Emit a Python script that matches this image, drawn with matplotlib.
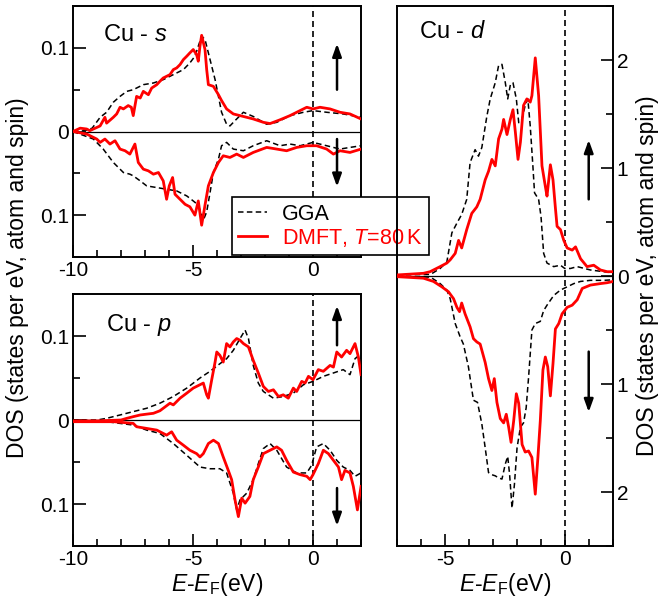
import numpy as np
import matplotlib
matplotlib.use('Agg')
import matplotlib.pyplot as plt
from matplotlib.ticker import MultipleLocator, FixedLocator, FuncFormatter
from matplotlib.lines import Line2D

plt.rcParams['font.family'] = ['Liberation Sans', 'DejaVu Sans']
plt.rcParams['mathtext.fontset'] = 'custom'
plt.rcParams['mathtext.rm'] = 'Liberation Sans'
plt.rcParams['mathtext.it'] = 'Liberation Sans:italic'
plt.rcParams['axes.unicode_minus'] = False

# %% data: (E - E_F [eV], DOS), spin-down stored as magnitudes
s_up_gga = np.array([(-10, 0), (-9.5, 0.001), (-9.2, 0.004), (-8.87, 0.017), (-8.6, 0.023), (-8.32, 0.035),
    (-8.04, 0.042), (-7.76, 0.048), (-7.49, 0.050), (-7.07, 0.056), (-6.65, 0.058), (-6.24, 0.062),
    (-5.82, 0.068), (-5.4, 0.074), (-5.13, 0.082), (-4.92, 0.090), (-4.71, 0.108), (-4.64, 0.114),
    (-4.5, 0.110), (-4.29, 0.086), (-4.08, 0.062), (-3.94, 0.042), (-3.81, 0.023), (-3.6, 0.0087),
    (-3.46, 0.0067), (-3.25, 0.013), (-2.9, 0.023), (-2.49, 0.018), (-1.93, 0.0087), (-1.51, 0.011),
    (-0.96, 0.019), (-0.4, 0.023), (0, 0.025), (0.57, 0.023), (1.26, 0.021), (2.0, 0.017)])
s_up_dmft = np.array([(-10, 0), (-9.7, 0.004), (-9.43, 0.003), (-9.3, 0.001), (-8.87, 0.0067), (-8.67, 0.017),
    (-8.6, 0.010), (-8.32, 0.017), (-8.18, 0.021), (-8.04, 0.029), (-7.9, 0.027), (-7.7, 0.031),
    (-7.57, 0.029), (-7.49, 0.019), (-7.35, 0.042), (-7.2, 0.040), (-7.07, 0.048), (-6.86, 0.044),
    (-6.72, 0.052), (-6.51, 0.056), (-6.38, 0.060), (-6.24, 0.064), (-6.1, 0.066), (-5.96, 0.068),
    (-5.82, 0.074), (-5.68, 0.076), (-5.54, 0.080), (-5.4, 0.086), (-5.26, 0.090), (-5.13, 0.094),
    (-4.99, 0.098), (-4.85, 0.092), (-4.78, 0.084), (-4.71, 0.102), (-4.64, 0.115), (-4.5, 0.098),
    (-4.43, 0.074), (-4.36, 0.056), (-4.15, 0.054), (-3.94, 0.044), (-3.81, 0.037), (-3.6, 0.027),
    (-3.32, 0.021), (-3.04, 0.019), (-2.49, 0.015), (-2.07, 0.011), (-1.79, 0.0095), (-1.375, 0.014),
    (-0.96, 0.019), (-0.54, 0.025), (-0.26, 0.029), (0, 0.027), (0.29, 0.029), (0.71, 0.027),
    (1.125, 0.023), (1.54, 0.021), (2.0, 0.015)])
s_dn_gga = np.array([(-10, 0), (-9.15, 0.009), (-8.74, 0.021), (-8.32, 0.037), (-7.9, 0.049), (-7.63, 0.051),
    (-7.49, 0.053), (-7.2, 0.059), (-6.93, 0.065), (-6.51, 0.067), (-6.1, 0.069), (-5.68, 0.071),
    (-5.26, 0.077), (-4.99, 0.083), (-4.78, 0.088), (-4.57, 0.106), (-4.43, 0.096), (-4.29, 0.073),
    (-4.15, 0.049), (-3.94, 0.033), (-3.81, 0.017), (-3.6, 0.013), (-3.32, 0.021), (-2.9, 0.023),
    (-2.49, 0.017), (-1.93, 0.011), (-1.375, 0.017), (-0.96, 0.015), (-0.54, 0.017), (0, 0.013),
    (0.57, 0.017), (1.125, 0.021), (1.54, 0.019), (2.0, 0.017)])
s_dn_dmft = np.array([(-10, 0), (-9.43, 0.003), (-9.01, 0.009), (-8.87, 0.013), (-8.67, 0.009), (-8.46, 0.015),
    (-8.25, 0.011), (-8.04, 0.021), (-7.83, 0.023), (-7.63, 0.027), (-7.42, 0.015), (-7.28, 0.037),
    (-7.07, 0.045), (-6.86, 0.047), (-6.65, 0.051), (-6.44, 0.049), (-6.24, 0.059), (-6.1, 0.081),
    (-5.99, 0.065), (-5.85, 0.055), (-5.75, 0.075), (-5.54, 0.081), (-5.33, 0.087), (-5.13, 0.090),
    (-4.92, 0.100), (-4.78, 0.083), (-4.64, 0.112), (-4.5, 0.088), (-4.36, 0.065), (-4.15, 0.049),
    (-3.94, 0.037), (-3.74, 0.029), (-3.46, 0.031), (-3.18, 0.027), (-2.9, 0.031), (-2.49, 0.025),
    (-1.93, 0.019), (-1.51, 0.021), (-1.1, 0.023), (-0.68, 0.019), (-0.26, 0.017), (0.15, 0.017),
    (0.57, 0.021), (0.85, 0.027), (1.125, 0.023), (1.54, 0.025), (2.0, 0.021)])

p_up_gga = np.array([(-10, 0), (-9, 0), (-8.6, 0.002), (-8.04, 0.006), (-7.49, 0.010), (-6.93, 0.014),
    (-6.38, 0.020), (-5.82, 0.028), (-5.26, 0.038), (-4.71, 0.050), (-4.29, 0.058), (-3.88, 0.067),
    (-3.6, 0.073), (-3.32, 0.083), (-3.04, 0.097), (-2.83, 0.107), (-2.69, 0.097), (-2.49, 0.065),
    (-2.28, 0.044), (-2.07, 0.034), (-1.65, 0.026), (-1.24, 0.028), (-0.82, 0.032), (-0.4, 0.042),
    (0, 0.046), (0.43, 0.052), (0.85, 0.056), (1.26, 0.060), (1.54, 0.054), (1.75, 0.073), (2.0, 0.079)])
p_up_dmft = np.array([(-10, -0.001), (-9, -0.001), (-8.0, 0.0), (-7.76, 0.002), (-7.49, 0.004), (-7.2, 0.006),
    (-6.93, 0.007), (-6.65, 0.008), (-6.38, 0.011), (-6.1, 0.017), (-5.96, 0.020), (-5.82, 0.018),
    (-5.54, 0.026), (-5.26, 0.032), (-4.99, 0.038), (-4.71, 0.042), (-4.57, 0.044), (-4.43, 0.030),
    (-4.36, 0.026), (-4.22, 0.048), (-4.08, 0.069), (-4.01, 0.081), (-3.88, 0.077), (-3.74, 0.069),
    (-3.6, 0.091), (-3.46, 0.087), (-3.32, 0.093), (-3.18, 0.097), (-3.04, 0.095), (-2.9, 0.091),
    (-2.69, 0.087), (-2.49, 0.071), (-2.28, 0.056), (-2.07, 0.040), (-1.86, 0.034), (-1.65, 0.036),
    (-1.44, 0.028), (-1.24, 0.030), (-1.03, 0.026), (-0.82, 0.038), (-0.68, 0.034), (-0.47, 0.046),
    (-0.33, 0.044), (-0.19, 0.052), (0, 0.048), (0.22, 0.060), (0.43, 0.058), (0.71, 0.065),
    (0.85, 0.063), (0.99, 0.081), (1.19, 0.075), (1.4, 0.083), (1.54, 0.079), (1.75, 0.091),
    (1.89, 0.075), (2.0, 0.054)])
p_dn_gga = np.array([(-10, 0), (-8.6, 0.002), (-7.49, 0.006), (-6.93, 0.012), (-6.38, 0.016), (-5.82, 0.028),
    (-5.26, 0.042), (-4.71, 0.056), (-4.29, 0.058), (-3.88, 0.058), (-3.6, 0.063), (-3.32, 0.087),
    (-3.18, 0.107), (-3.04, 0.095), (-2.76, 0.087), (-2.49, 0.071), (-2.28, 0.052), (-2.07, 0.034),
    (-1.79, 0.028), (-1.51, 0.036), (-1.1, 0.056), (-0.68, 0.063), (-0.26, 0.063), (-0.06, 0.054),
    (0.15, 0.032), (0.43, 0.028), (0.71, 0.036), (0.99, 0.048), (1.26, 0.056), (1.54, 0.060),
    (1.75, 0.067), (2.0, 0.063)])
p_dn_dmft = np.array([(-10, 0.002), (-8.3, 0.002), (-7.49, 0.004), (-7.35, 0.008), (-6.93, 0.010), (-6.51, 0.012),
    (-6.1, 0.018), (-5.89, 0.014), (-5.68, 0.024), (-5.4, 0.030), (-5.13, 0.036), (-4.85, 0.040),
    (-4.71, 0.044), (-4.57, 0.040), (-4.36, 0.028), (-4.15, 0.024), (-3.94, 0.028), (-3.74, 0.044),
    (-3.53, 0.060), (-3.39, 0.071), (-3.25, 0.095), (-3.11, 0.115), (-2.97, 0.093), (-2.83, 0.099),
    (-2.63, 0.091), (-2.49, 0.071), (-2.28, 0.056), (-2.07, 0.040), (-1.79, 0.036), (-1.51, 0.032),
    (-1.31, 0.036), (-1.1, 0.048), (-0.82, 0.062), (-0.54, 0.065), (-0.26, 0.067), (-0.12, 0.071),
    (0, 0.065), (0.22, 0.052), (0.43, 0.036), (0.64, 0.040), (0.85, 0.048), (1.06, 0.056),
    (1.19, 0.071), (1.33, 0.060), (1.54, 0.063), (1.68, 0.079), (1.85, 0.107), (2.0, 0.079)])

d_up_gga = np.array([(-7, 0.01), (-5.6, 0.015), (-5.2, 0.07), (-4.92, 0.13), (-4.71, 0.40), (-4.5, 0.49),
    (-4.3, 0.57), (-4.09, 0.71), (-3.95, 1.05), (-3.74, 1.17), (-3.6, 1.11), (-3.46, 1.19), (-3.25, 1.48),
    (-3.11, 1.64), (-2.9, 1.79), (-2.76, 1.95), (-2.62, 1.96), (-2.48, 1.79), (-2.38, 1.64), (-2.27, 1.77),
    (-2.16, 1.79), (-2.02, 1.64), (-1.92, 1.42), (-1.79, 1.45), (-1.65, 1.58), (-1.54, 1.64), (-1.44, 1.39),
    (-1.33, 1.02), (-1.26, 0.77), (-1.09, 0.71), (-0.99, 0.55), (-0.88, 0.21), (-0.74, 0.12), (-0.46, 0.087),
    (-0.18, 0.10), (0, 0.07), (0.24, 0.07), (0.52, 0.087), (1.07, 0.056), (1.63, 0.04), (2.0, 0.03)])
d_up_dmft = np.array([(-7, 0.01), (-5.9, 0.025), (-5.62, 0.04), (-5.2, 0.087), (-4.92, 0.12), (-4.78, 0.15),
    (-4.57, 0.21), (-4.43, 0.33), (-4.3, 0.26), (-4.09, 0.43), (-3.88, 0.58), (-3.67, 0.64), (-3.53, 0.71),
    (-3.32, 0.89), (-3.18, 0.97), (-3.04, 1.08), (-2.9, 1.02), (-2.76, 1.27), (-2.62, 1.36), (-2.55, 1.45),
    (-2.41, 1.31), (-2.27, 1.45), (-2.16, 1.54), (-2.06, 1.33), (-1.95, 1.08), (-1.85, 1.24), (-1.72, 1.58),
    (-1.58, 1.64), (-1.44, 1.61), (-1.37, 1.67), (-1.23, 2.02), (-1.09, 1.67), (-0.95, 1.02), (-0.81, 0.83),
    (-0.74, 0.74), (-0.6, 1.03), (-0.49, 0.89), (-0.39, 0.63), (-0.32, 0.46), (-0.18, 0.43), (-0.04, 0.33),
    (0.1, 0.26), (0.31, 0.24), (0.45, 0.27), (0.66, 0.16), (0.93, 0.087), (1.21, 0.10), (1.49, 0.056),
    (1.77, 0.04), (2.02, 0.04)])
d_dn_gga = np.array([(-7, 0.006), (-5.6, 0.01), (-5.2, 0.07), (-4.92, 0.13), (-4.78, 0.21), (-4.57, 0.44),
    (-4.37, 0.56), (-4.23, 0.63), (-4.02, 0.84), (-3.81, 1.15), (-3.64, 1.17), (-3.46, 1.37), (-3.32, 1.59),
    (-3.18, 1.82), (-3.04, 1.84), (-2.9, 1.85), (-2.76, 1.87), (-2.62, 1.88), (-2.48, 1.74), (-2.38, 1.67),
    (-2.3, 1.84), (-2.2, 2.15), (-2.1, 1.93), (-1.99, 1.59), (-1.85, 1.40), (-1.72, 1.36), (-1.61, 1.22),
    (-1.51, 0.94), (-1.37, 0.50), (-1.23, 0.44), (-1.02, 0.42), (-0.88, 0.32), (-0.74, 0.27), (-0.46, 0.18),
    (-0.18, 0.13), (0.1, 0.10), (0.38, 0.07), (0.66, 0.05), (1.07, 0.04), (1.63, 0.04), (2.0, 0.035)])
d_dn_dmft = np.array([(-7, 0.006), (-5.9, 0.02), (-5.48, 0.05), (-5.13, 0.10), (-4.85, 0.146), (-4.64, 0.21),
    (-4.5, 0.29), (-4.39, 0.33), (-4.3, 0.25), (-4.16, 0.35), (-3.95, 0.47), (-3.81, 0.58), (-3.67, 0.61),
    (-3.53, 0.63), (-3.32, 0.80), (-3.18, 0.95), (-3.04, 1.06), (-2.94, 0.95), (-2.83, 1.17), (-2.69, 1.32),
    (-2.55, 1.36), (-2.44, 1.28), (-2.34, 1.40), (-2.24, 1.54), (-2.13, 1.34), (-2.02, 1.09), (-1.92, 1.18),
    (-1.78, 1.56), (-1.65, 1.63), (-1.51, 1.62), (-1.37, 1.68), (-1.23, 2.02), (-1.12, 1.68), (-1.02, 1.34),
    (-0.91, 0.87), (-0.81, 0.75), (-0.71, 0.84), (-0.6, 1.11), (-0.49, 0.81), (-0.39, 0.49), (-0.25, 0.44),
    (-0.11, 0.35), (0.1, 0.29), (0.31, 0.27), (0.52, 0.22), (0.73, 0.115), (1.07, 0.084), (1.49, 0.07),
    (1.77, 0.062), (2.02, 0.05)])

panel_names = ['Cu - $s$', 'Cu - $p$', 'Cu - $d$']
legend_labels = ['GGA', 'DMFT, $T$=80$\\,$K']
xlabel = '$E$-$E_{\\rm F}$(eV)'
ylabel = 'DOS (states per eV, atom and spin)'

RED = '#ff0000'
GGA_KW = dict(color='k', lw=1.1, dashes=(3.6, 2.2))
DMFT_KW = dict(color=RED, lw=2.0)
FS_TICK = 15
FS_LAB = 16.5

# %% figure
fig = plt.figure(figsize=(6.6, 6.03), dpi=100)
ax_s = fig.add_axes([0.1106, 0.5738, 0.4364, 0.4162])
ax_p = fig.add_axes([0.1106, 0.0945, 0.4364, 0.4179])
ax_d = fig.add_axes([0.6015, 0.0945, 0.3268, 0.8955])
# legend sits on top of the s panel, but the d panel frame shows through it
ax_s.set_zorder(1)
ax_d.set_zorder(2)
ax_d.patch.set_alpha(0)

def style(ax, xlim, ylim, xmaj, ymaj, ymin, right=False):
    ax.set_xlim(*xlim)
    ax.set_ylim(*ylim)
    for sp in ax.spines.values():
        sp.set_linewidth(1.4)
    ax.xaxis.set_major_locator(FixedLocator(xmaj))
    ax.xaxis.set_minor_locator(MultipleLocator(1))
    ax.yaxis.set_major_locator(FixedLocator(ymaj))
    ax.yaxis.set_minor_locator(MultipleLocator(ymin))
    ax.xaxis.set_major_formatter(FuncFormatter(lambda v, p: f'{v:g}'))
    ax.yaxis.set_major_formatter(FuncFormatter(lambda v, p: f'{abs(v):g}'))
    ax.tick_params(which='both', direction='in', width=1.2, labelsize=FS_TICK,
                   top=False, left=not right, right=right, labelleft=not right, labelright=right)
    ax.tick_params(which='major', length=9, pad=3)
    ax.tick_params(which='minor', length=5)
    ax.axhline(0, color='k', lw=0.9, zorder=1)
    ax.axvline(0, color='k', lw=1.2, dashes=(3.6, 2.4), zorder=1)

def draw(ax, up_gga, up_dmft, dn_gga, dn_dmft):
    ax.plot(up_gga[:, 0], up_gga[:, 1], **GGA_KW, zorder=2)
    ax.plot(dn_gga[:, 0], -dn_gga[:, 1], **GGA_KW, zorder=2)
    ax.plot(up_dmft[:, 0], up_dmft[:, 1], **DMFT_KW, zorder=3)
    ax.plot(dn_dmft[:, 0], -dn_dmft[:, 1], **DMFT_KW, zorder=3)

def spin_arrows(ax, x, up, dn):
    aprops = dict(arrowstyle='-|>,head_length=0.5,head_width=0.18', lw=1.8, color='k',
                  mutation_scale=15, shrinkA=0, shrinkB=0)
    ax.annotate('', xy=(x, up[1]), xytext=(x, up[0]), arrowprops=aprops)
    ax.annotate('', xy=(x, dn[1]), xytext=(x, dn[0]), arrowprops=aprops)

style(ax_s, (-10, 2), (-0.15, 0.15), [-10, -5, 0], [-0.1, 0, 0.1], 0.05)
style(ax_p, (-10, 2), (-0.15, 0.15), [-10, -5, 0], [-0.1, 0, 0.1], 0.05)
style(ax_d, (-7, 2), (-2.5, 2.5), [-5, 0], [-2, -1, 0, 1, 2], 0.5, right=True)

draw(ax_s, s_up_gga, s_up_dmft, s_dn_gga, s_dn_dmft)
draw(ax_p, p_up_gga, p_up_dmft, p_dn_gga, p_dn_dmft)
draw(ax_d, d_up_gga, d_up_dmft, d_dn_gga, d_dn_dmft)

spin_arrows(ax_s, 1, (0.05, 0.105), (-0.009, -0.066))
spin_arrows(ax_p, 1, (0.089, 0.136), (-0.081, -0.126))
spin_arrows(ax_d, 1, (0.71, 1.26), (-0.70, -1.26))

ax_s.text(0.104, 0.885, panel_names[0], transform=ax_s.transAxes, fontsize=17, va='center')
ax_p.text(0.115, 0.877, panel_names[1], transform=ax_p.transAxes, fontsize=17, va='center')
ax_d.text(0.102, 0.952, panel_names[2], transform=ax_d.transAxes, fontsize=17, va='center')

ax_p.set_xlabel(xlabel, fontsize=FS_LAB, labelpad=1)
ax_d.set_xlabel(xlabel, fontsize=FS_LAB, labelpad=1)
ax_d.yaxis.set_label_position('right')
ax_d.set_ylabel(ylabel, fontsize=FS_LAB, labelpad=5)
fig.text(18 / 660, 1 - 278 / 603, ylabel, rotation=90, fontsize=FS_LAB, ha='center', va='center')

handles = [Line2D([], [], **GGA_KW), Line2D([], [], **DMFT_KW)]
leg = ax_s.legend(handles, legend_labels, loc='upper left', bbox_to_anchor=(231.7 / 660, 1 - 197.3 / 603),
                  bbox_transform=fig.transFigure, fontsize=15.5, frameon=True, fancybox=False,
                  framealpha=1, edgecolor='k', borderaxespad=0, borderpad=0.3, labelspacing=0.1,
                  handlelength=1.35, handletextpad=0.7, labelcolor='linecolor')
leg.get_frame().set_linewidth(1.2)
leg.set_zorder(10)
leg.set_clip_on(False)

fig.savefig('out.png', dpi=100)
